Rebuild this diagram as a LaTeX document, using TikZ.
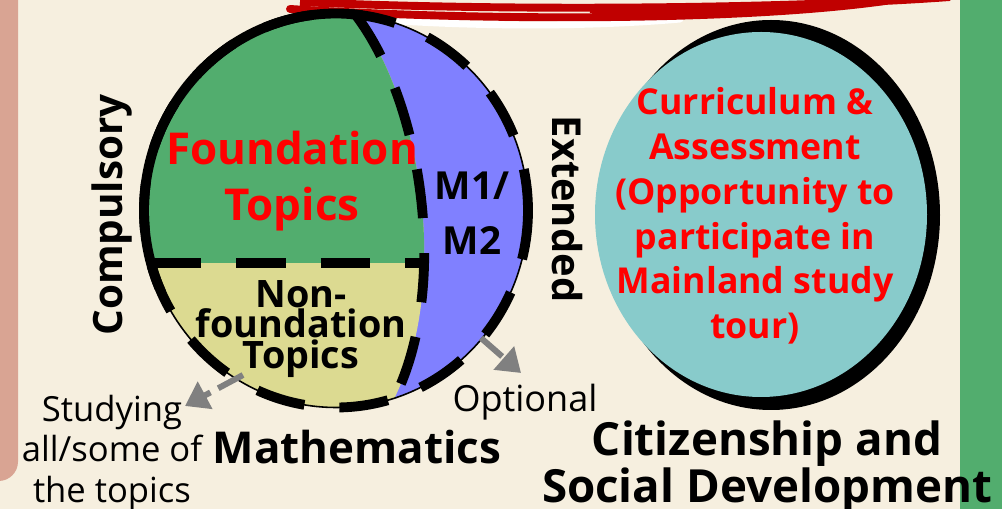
\documentclass[tikz,border=0pt]{standalone}
\usepackage{fontspec}
\setmainfont{Open Sans}
\usetikzlibrary{arrows.meta}

\definecolor{bgcream}{HTML}{F6EFDF}
\definecolor{sidepink}{HTML}{D9A493}
\definecolor{sidegreen}{HTML}{52AD6E}
\definecolor{fndgreen}{HTML}{52AD6E}
\definecolor{extblue}{HTML}{8080FF}
\definecolor{nonyellow}{HTML}{DCDA91}
\definecolor{csdcyan}{HTML}{88CBCB}
\definecolor{scribred}{HTML}{C00000}
\definecolor{arrowgray}{HTML}{808080}

\begin{document}
\begin{tikzpicture}[x=0.02cm, y=-0.02cm,
    thickdash/.style={line width=5.6pt, dash pattern=on 28pt off 20pt},
    redtext/.style={text=red, align=center},
    blacktext/.style={font=\bfseries\fontsize{22}{31}\selectfont, align=center},
    plaintext/.style={font=\fontsize{19.7}{23}\selectfont, align=center, inner sep=0pt},
    grayarrow/.style={draw=arrowgray, line width=3.4pt, dash pattern=on 16pt off 5pt,
        -{Triangle[length=13pt, width=17pt]}}]
    % Page and side bars
    \useasboundingbox (0,0) rectangle (1002,509);
    \fill[bgcream] (0,0) rectangle (1002,509);
    \fill[sidepink, rounded corners=11pt] (-30,-20) rectangle (18,481);
    \fill[sidegreen] (960,-10) rectangle (1010,520);
    % Scribble at the top
    \draw[white, line width=4pt, line cap=round] (400,21) .. controls (500,27) and (600,26) .. (680,19);
    \draw[scribred, line width=4.5pt, line cap=round] (290,9) .. controls (500,22) and (750,20) .. (885,1);
    \draw[scribred, line width=4.5pt] (300,2) .. controls (520,12) and (800,8) .. (950,-3);
    \draw[scribred, line width=2.5pt] (590,11) .. controls (700,12) and (820,6) .. (900,1);

    % Mathematics circle
    \begin{scope}
        \clip (336,210.5) ellipse [x radius=192, y radius=197];
        \fill[extblue] (100,0) rectangle (560,420);
        \fill[nonyellow] (345,-10) -- (355,14) .. controls (425,105) and (452,300) .. (388,410)
            -- (388,430) -- (100,430) -- (100,-10) -- cycle;
        \begin{scope}
            \clip (100,-10) rectangle (560,263);
            \fill[fndgreen] (345,-10) -- (355,14) .. controls (425,105) and (452,300) .. (388,410)
                -- (388,430) -- (100,430) -- (100,-10) -- cycle;
        \end{scope}
        \draw[thickdash] (355,14) .. controls (425,105) and (452,300) .. (388,410);
        \draw[thickdash] (152,263) -- (426,263);
    \end{scope}
    \draw[line width=0.9pt] (336,210.5) ellipse [x radius=192, y radius=197];
    \draw[thickdash] (336,210.5) ellipse [x radius=192, y radius=197];
    \begin{scope}
        \clip (0,-10) rectangle (363,290);
        \draw[line width=5.6pt] (336,210.5) ellipse [x radius=192, y radius=197];
    \end{scope}

    % Citizenship circle
    \fill[black] (771,215) ellipse [x radius=169, y radius=195];
    \fill[csdcyan] (761,214.5) ellipse [x radius=166, y radius=182.5];

    % Labels inside the circles
    \node[redtext, font=\bfseries\fontsize{25}{32}\selectfont] (found) at (292,181) {Foundation\\Topics};
    \node[blacktext] (m12) at (472,213) {M1/\\M2};
    \node[blacktext, font=\bfseries\fontsize{21.5}{17.6}\selectfont] (nonf) at (301,329)
        {Non-\\foundation\\Topics};
    \node[redtext, font=\bfseries\fontsize{20.3}{25.5}\selectfont] (curric) at (755,216)
        {Curriculum \&\\Assessment\\(Opportunity to\\participate in\\Mainland study\\tour)};

    % Side labels
    \node[blacktext, font=\bfseries\fontsize{23}{23}\selectfont, rotate=90] (compul) at (112,215) {Compulsory};
    \node[blacktext, font=\bfseries\fontsize{22.7}{23}\selectfont, rotate=-90] (extend) at (567,209) {Extended};

    % Titles
    \node[blacktext, font=\bfseries\fontsize{25}{25}\selectfont] (math) at (357,447) {Mathematics};
    \node[blacktext, font=\bfseries\fontsize{26}{23.3}\selectfont] (citi) at (767,467)
        {Citizenship and\\Social Development};

    % Notes and arrows
    \node[plaintext, font=\fontsize{20.5}{23}\selectfont] (optional) at (525,402) {Optional};
    \node[plaintext] (studying) at (112,453) {Studying\\all/some of\\the topics};
    \coordinate (optFrom) at (481,338);
    \coordinate (optTo) at (521,373);
    \coordinate (studFrom) at (243,375);
    \coordinate (studTo) at (185,406);
    \draw[grayarrow] (optFrom) -- (optTo);
    \draw[grayarrow] (studFrom) -- (studTo);
\end{tikzpicture}
\end{document}
